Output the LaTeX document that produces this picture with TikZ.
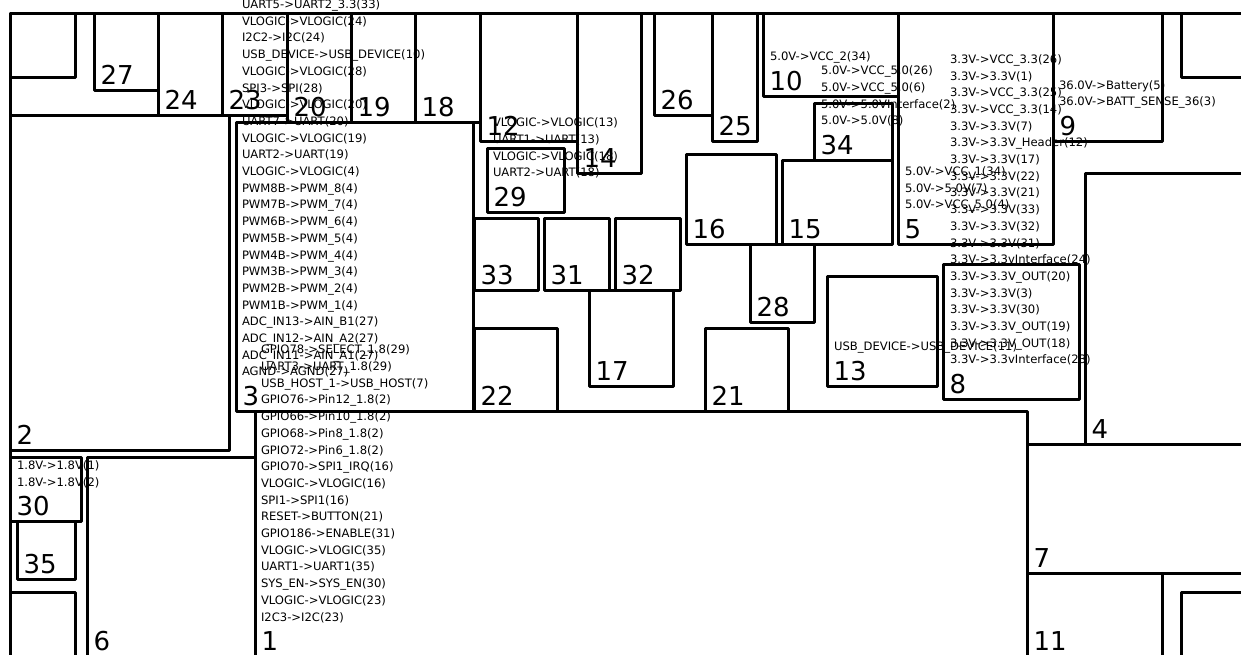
\documentclass[tikz,border=0pt]{standalone}
\usepackage{fontspec}
\setmainfont{DejaVu Sans}
\newcommand{\numfont}{\fontsize{26}{30}\selectfont}
\newcommand{\txtfont}{\fontsize{11.6}{16.7}\selectfont}
\newcommand{\U}{\_}
\tikzset{
  boxst/.style={draw=black,line width=3pt,line join=round,rectangle,inner sep=0pt,outer sep=0pt,anchor=north west},
  numst/.style={font=\numfont,anchor=base west,inner sep=0pt,outer sep=0pt},
  listst/.style={font=\txtfont,anchor=south west,align=left,inner sep=0pt,outer sep=0pt}
}
% id x1 y1 x2 y2 label; a box whose y2 passes the lower edge runs on beyond the page
\newcommand{\bx}[6]{%
  \pgfmathsetmacro{\bw}{#4-#2}\pgfmathsetmacro{\bh}{(#5>650?720:#5)-#3}%
  \node[boxst,minimum width=\bw pt,minimum height=\bh pt] (b#1) at (#2,-#3) {};%
  \pgfmathsetmacro{\nx}{#2+6.5}\pgfmathsetmacro{\ny}{-(#5-5.7)}%
  \node[numst] (n#1) at (\nx,\ny) {#6};%
}
% id x1 y2 lines
\newcommand{\lst}[4]{%
  \pgfmathsetmacro{\nx}{#2+6}\pgfmathsetmacro{\ny}{-(#3-35+5)}%
  \node[listst] (t#1) at (\nx,\ny) {#4\strut};%
}
\begin{document}
\begin{tikzpicture}[x=1pt,y=1pt]
\useasboundingbox (0,0) rectangle (1241,-654);
\fill[white] (0,0) rectangle (1241,-654);
\clip (0,0) rectangle (1241,-654);
\bx{frame}{10}{13}{1300}{720}{}
\bx{tl}{10}{13}{75}{77}{}
\bx{tr}{1181}{13}{1300}{77}{}
\bx{bl}{10}{592}{75}{720}{}
\bx{br}{1181}{592}{1300}{720}{}
\bx{27}{94}{13}{158}{90}{27}
\bx{24}{158}{13}{222}{115}{24}
\bx{23}{222}{13}{287}{115}{23}
\bx{20}{287}{13}{351}{122}{20}
\bx{19}{351}{13}{415}{122}{19}
\bx{18}{415}{13}{480}{122}{18}
\bx{12}{480}{13}{577}{141}{12}
\bx{14}{577}{13}{641}{173}{14}
\bx{26}{654}{13}{712}{115}{26}
\bx{25}{712}{13}{757}{141}{25}
\bx{10}{763}{13}{898}{96}{10}
\bx{5}{898}{13}{1053}{244}{5}
\bx{9}{1053}{13}{1162}{141}{9}
\bx{4}{1085}{173}{1300}{444}{4}
\bx{34}{814}{103}{892}{160}{34}
\bx{15}{782}{160}{892}{244}{15}
\bx{16}{686}{154}{776}{244}{16}
\bx{29}{487}{148}{564}{212}{29}
\bx{33}{474}{218}{538}{290}{33}
\bx{31}{544}{218}{609}{290}{31}
\bx{32}{615}{218}{680}{290}{32}
\bx{17}{589}{290}{673}{386}{17}
\bx{28}{750}{244}{814}{322}{28}
\bx{22}{474}{328}{557}{411}{22}
\bx{21}{705}{328}{788}{411}{21}
\bx{13}{827}{276}{937}{386}{13}
\bx{8}{943}{264}{1079}{399}{8}
\bx{3}{236}{122}{473}{411}{3}
\bx{2}{10}{115}{229}{450}{2}
\bx{1}{255}{411}{1027}{656}{1}
\bx{6}{87}{457}{255}{656}{6}
\bx{30}{10}{457}{81}{521}{30}
\bx{35}{17}{521}{75}{579}{35}
\bx{7}{1027}{444}{1300}{573}{7}
\bx{11}{1027}{573}{1162}{656}{11}
\lst{3}{236}{411}{UART5->UART2\U3.3(33)\\VLOGIC->VLOGIC(24)\\I2C2->I2C(24)\\USB\U DEVICE->USB\U DEVICE(10)\\VLOGIC->VLOGIC(28)\\SPI3->SPI(28)\\VLOGIC->VLOGIC(20)\\UART7->UART(20)\\VLOGIC->VLOGIC(19)\\UART2->UART(19)\\VLOGIC->VLOGIC(4)\\PWM8B->PWM\U 8(4)\\PWM7B->PWM\U 7(4)\\PWM6B->PWM\U 6(4)\\PWM5B->PWM\U 5(4)\\PWM4B->PWM\U 4(4)\\PWM3B->PWM\U 3(4)\\PWM2B->PWM\U 2(4)\\PWM1B->PWM\U 1(4)\\ADC\U IN13->AIN\U B1(27)\\ADC\U IN12->AIN\U A2(27)\\ADC\U IN11->AIN\U A1(27)\\AGND->AGND(27)}
\lst{1}{255}{656}{GPIO78->SELECT\U 1.8(29)\\UART3->UART\U 1.8(29)\\USB\U HOST\U 1->USB\U HOST(7)\\GPIO76->Pin12\U 1.8(2)\\GPIO66->Pin10\U 1.8(2)\\GPIO68->Pin8\U 1.8(2)\\GPIO72->Pin6\U 1.8(2)\\GPIO70->SPI1\U IRQ(16)\\VLOGIC->VLOGIC(16)\\SPI1->SPI1(16)\\RESET->BUTTON(21)\\GPIO186->ENABLE(31)\\VLOGIC->VLOGIC(35)\\UART1->UART1(35)\\SYS\U EN->SYS\U EN(30)\\VLOGIC->VLOGIC(23)\\I2C3->I2C(23)}
\lst{29}{487}{212}{VLOGIC->VLOGIC(13)\\UART1->UART(13)\\VLOGIC->VLOGIC(18)\\UART2->UART(18)}
\lst{10}{764}{96}{5.0V->VCC\U 2(34)}
\lst{34}{815}{160}{5.0V->VCC\U 5.0(26)\\5.0V->VCC\U 5.0(6)\\5.0V->5.0VInterface(2)\\5.0V->5.0V(8)}
\lst{5}{899}{244}{5.0V->VCC\U 1(34)\\5.0V->5.0V(7)\\5.0V->VCC\U 5.0(4)}
\lst{8}{944}{399}{3.3V->VCC\U 3.3(26)\\3.3V->3.3V(1)\\3.3V->VCC\U 3.3(25)\\3.3V->VCC\U 3.3(14)\\3.3V->3.3V(7)\\3.3V->3.3V\U Header(12)\\3.3V->3.3V(17)\\3.3V->3.3V(22)\\3.3V->3.3V(21)\\3.3V->3.3V(33)\\3.3V->3.3V(32)\\3.3V->3.3V(31)\\3.3V->3.3vInterface(24)\\3.3V->3.3V\U OUT(20)\\3.3V->3.3V(3)\\3.3V->3.3V(30)\\3.3V->3.3V\U OUT(19)\\3.3V->3.3V\U OUT(18)\\3.3V->3.3vInterface(23)}
\lst{9}{1053}{141}{36.0V->Battery(5)\\36.0V->BATT\U SENSE\U 36(3)}
\lst{13}{828}{386}{USB\U DEVICE->USB\U DEVICE(11)}
\lst{30}{11}{521}{1.8V->1.8V(1)\\1.8V->1.8V(2)}
\end{tikzpicture}
\end{document}
